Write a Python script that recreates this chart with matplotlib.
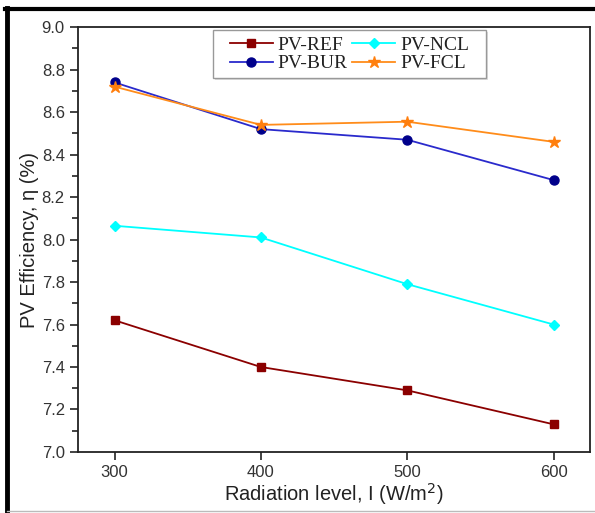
import matplotlib
matplotlib.use("Agg")
import matplotlib.pyplot as plt
from matplotlib.lines import Line2D
from matplotlib.patches import Rectangle
from matplotlib.ticker import MultipleLocator, FormatStrFormatter

radiation = [300, 400, 500, 600]
eff_ref = [7.62, 7.40, 7.29, 7.13]
eff_ncl = [8.065, 8.01, 7.79, 7.60]
eff_bur = [8.74, 8.52, 8.47, 8.28]
eff_fcl = [8.72, 8.54, 8.555, 8.46]

plt.rcParams['font.family'] = ['Liberation Sans', 'DejaVu Sans']

fig = plt.figure(figsize=(5.95, 5.13), dpi=100)
ax = fig.add_axes([0.131, 0.119, 0.861, 0.828])

l_ref, = ax.plot(radiation, eff_ref, color='#8b0000', lw=1.3, marker='s', ms=5.5,
                 mfc='#8b0000', mec='#8b0000', label='PV-REF')
l_ncl, = ax.plot(radiation, eff_ncl, color='#00ffff', lw=1.3, marker='D', ms=5.5,
                 mfc='#00ffff', mec='#00ffff', label='PV-NCL')
l_bur, = ax.plot(radiation, eff_bur, color='#2a2acc', lw=1.3, marker='o', ms=6.5,
                 mfc='#00008b', mec='#00008b', label='PV-BUR')
l_fcl, = ax.plot(radiation, eff_fcl, color='#ff8c1a', lw=1.3, marker='*', ms=9,
                 mfc='#ff7f0e', mec='#ff7f0e', label='PV-FCL')

ax.set_xlim(275, 625)
ax.set_ylim(7.0, 9.0)
ax.set_xticks(radiation)
ax.yaxis.set_major_locator(MultipleLocator(0.2))
ax.yaxis.set_minor_locator(MultipleLocator(0.1))
ax.yaxis.set_major_formatter(FormatStrFormatter('%.1f'))
ax.tick_params(axis='both', which='major', direction='out', length=6, width=1.2,
               labelsize=12, colors='#222222', labelcolor='#333333')
ax.tick_params(axis='y', which='minor', direction='out', length=4, width=1.2, color='#222222')
for s in ax.spines.values():
    s.set_linewidth(1.3)
    s.set_color('#222222')

ax.set_xlabel('Radiation level, I (W/m$^2$)', fontsize=14.5, color='#222222', labelpad=1)
ax.set_ylabel('PV Efficiency, η (%)', fontsize=14.5, color='#222222', labelpad=2)

leg = ax.legend(handles=[l_ref, l_bur, l_ncl, l_fcl], ncol=2, loc='upper center',
                bbox_to_anchor=(0.53, 0.988), prop={'family': 'Liberation Serif', 'size': 14},
                frameon=False, handlelength=2.2, handletextpad=0.25, columnspacing=0.25,
                labelspacing=0.05, borderpad=0.2, borderaxespad=0.0, labelcolor='#222222')
leg.set_zorder(6)

# legend frame: wider padding left/right than top/bottom
fig.canvas.draw()
bb = leg.get_window_extent()
padx, pady = 13, 2
shadow = Rectangle((bb.x0 - padx + 2, bb.y0 - pady - 2), bb.width + 2 * padx, bb.height + 2 * pady,
                   transform=None, facecolor='#dddddd', edgecolor='none', zorder=4.8,
                   clip_on=False)
box = Rectangle((bb.x0 - padx, bb.y0 - pady), bb.width + 2 * padx, bb.height + 2 * pady,
                transform=None, facecolor='white', edgecolor='#999999', lw=1.0, zorder=4.9,
                clip_on=False)
ax.add_artist(shadow)
ax.add_artist(box)

# outer frame lines around the figure
fig.add_artist(Line2D([0.012, 0.012], [0.0, 0.985], transform=fig.transFigure,
                      color='black', lw=3.5))
fig.add_artist(Line2D([0.009, 1.0], [0.983, 0.983], transform=fig.transFigure,
                      color='black', lw=3.0))
fig.add_artist(Line2D([0.012, 1.0], [0.003, 0.003], transform=fig.transFigure,
                      color='#bbbbbb', lw=1.0))

fig.savefig('out.png', dpi=100)
